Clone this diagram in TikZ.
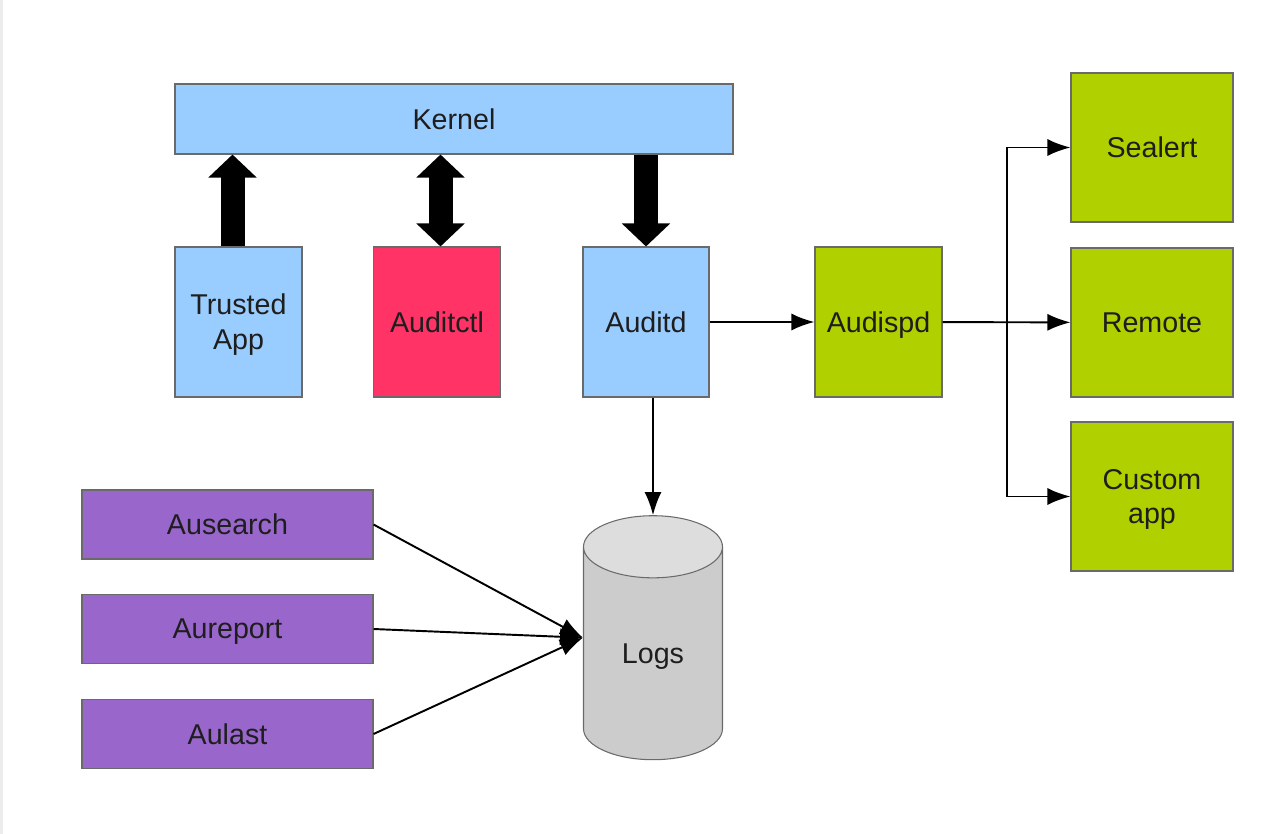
\documentclass[tikz,border=0pt]{standalone}
\usepackage{fontspec}
\setmainfont{Liberation Sans}
\usetikzlibrary{arrows.meta, shapes.geometric}

\definecolor{kblue}{HTML}{99CCFF}
\definecolor{ctlred}{HTML}{FF3366}
\definecolor{dispgreen}{HTML}{B0D000}
\definecolor{toolpurple}{HTML}{9966CC}
\definecolor{logbody}{HTML}{CCCCCC}
\definecolor{logtop}{HTML}{DDDDDD}
\definecolor{boxline}{HTML}{6A6A6A}
\definecolor{txt}{HTML}{1E1E1E}

\tikzset{
    box/.style={draw=boxline, line width=0.6pt, text=txt, align=center, inner sep=0pt,
        text depth=0pt, font=\fontsize{16.3}{19.9}\selectfont},
    daemon/.style={box, minimum width=2.54cm, minimum height=3cm},
    plugin/.style={box, fill=dispgreen, minimum width=3.24cm, minimum height=2.98cm},
    tool/.style={box, fill=toolpurple, minimum width=5.82cm, minimum height=1.38cm},
    flow/.style={line width=1.1pt, -{Latex[length=4.6mm, width=3.4mm]}},
    fat/.style={line width=4.8mm, {Triangle[length=4.6mm, width=9.4mm]}-{Triangle[length=4.6mm, width=9.4mm]}}
}

\begin{document}
\begin{tikzpicture}
        \useasboundingbox (0,0) rectangle (25.68,-16.68);
        \fill[gray!15] (0,0) rectangle (0.05,-16.68);

        \node (kernel) at (9.08,-2.38) [box, fill=kblue, minimum width=11.16cm, minimum height=1.4cm] {Kernel};
        \node (trusted) at (4.77,-6.44) [daemon, fill=kblue] {Trusted\\App};
        \node (auditctl) at (8.74,-6.44) [daemon, fill=ctlred] {Auditctl};
        \node (auditd) at (12.92,-6.44) [daemon, fill=kblue, minimum width=2.52cm] {Auditd};
        \node (audispd) at (17.57,-6.44) [daemon, fill=dispgreen] {Audispd};
        \node (sealert) at (23.04,-2.95) [plugin] {Sealert};
        \node (remote) at (23.04,-6.45) [plugin] {Remote};
        \node (custom) at (23.04,-9.93) [plugin] {Custom\\app};
        \node (ausearch) at (4.55,-10.49) [tool] {Ausearch};
        \node (aureport) at (4.55,-12.58) [tool] {Aureport};
        \node (aulast) at (4.55,-14.68) [tool] {Aulast};
        \node (logs) at (13.06,-13.07) [box, cylinder, shape border rotate=90, aspect=1,
            cylinder uses custom fill, cylinder body fill=logbody, cylinder end fill=logtop,
            minimum width=2.78cm, minimum height=4.88cm] {Logs};
        \coordinate (split) at (20.14,-6.44);

        \draw[fat, {Triangle[length=4.6mm, width=9.4mm]}-] ([xshift=-1.2mm]kernel.south -| trusted.north) -- ([xshift=-1.2mm]trusted.north);
        \draw[fat] ([xshift=0.7mm]kernel.south -| auditctl.north) -- ([xshift=0.7mm]auditctl.north);
        \draw[fat, -{Triangle[length=4.6mm, width=9.4mm]}] (kernel.south -| auditd.north) -- (auditd.north);
        \draw[flow] (auditd) -- (audispd);
        \draw[flow] (logs.top |- auditd.south) -- (logs.top);
        \draw[flow] (audispd) -- (remote);
        \draw[flow] (split) |- (sealert);
        \draw[flow] (split) |- (custom);
        \draw[flow] (ausearch.east) -- (logs.west |- logs.shape center);
        \draw[flow] (aureport.east) -- (logs.west |- logs.shape center);
        \draw[flow] (aulast.east) -- (logs.west |- logs.shape center);

    \end{tikzpicture}
\end{document}
